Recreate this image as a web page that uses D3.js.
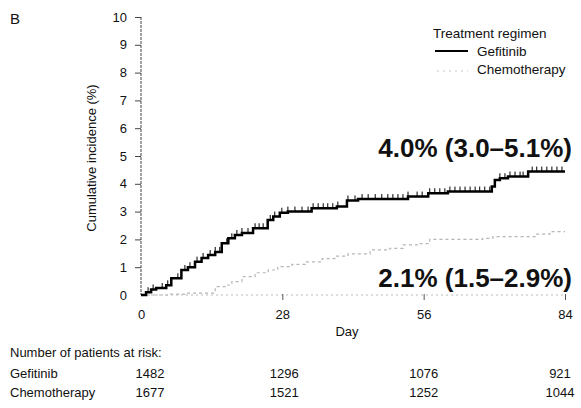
<!DOCTYPE html>
<html>
<head>
<meta charset="utf-8">
<title>Cumulative incidence</title>
<style>
body { margin: 0; background: #fff; }
svg { display: block; }
text { font-family: "Liberation Sans", Arial, sans-serif; fill: #111; }
</style>
<script src="https://cdn.jsdelivr.net/npm/d3@7"></script>
</head>
<body>
<script>
// values
var gefDays = [0, 1, 2, 3, 5, 6, 8, 9.3, 10.7, 12, 13.3, 14.7, 16, 17.3, 18.6, 20, 22.2, 25.1, 26.2, 27.5, 29.1, 33.8, 38.8, 40.8, 43, 52.9, 56.9, 60.8, 69.5, 70.1, 71.1, 72.7, 76.7, 84];
var gefPct = [0, 0.1, 0.2, 0.25, 0.35, 0.6, 0.9, 1.0, 1.2, 1.33, 1.44, 1.55, 1.86, 2.04, 2.16, 2.23, 2.4, 2.7, 2.82, 2.96, 3.0, 3.12, 3.18, 3.4, 3.45, 3.54, 3.66, 3.72, 3.9, 4.14, 4.2, 4.26, 4.44, 4.44];

var chemoDays = [0, 5.5, 8.7, 14.7, 17.2, 18, 20, 22.6, 25.2, 27.1, 29.9, 32.5, 35.9, 38.4, 41, 45.4, 49.3, 51.9, 54.7, 57.2, 67.7, 69.7, 78.4, 81, 84];
var chemoPct = [0, 0.03, 0.07, 0.3, 0.36, 0.48, 0.66, 0.8, 0.9, 1.02, 1.1, 1.19, 1.31, 1.4, 1.48, 1.62, 1.68, 1.8, 1.85, 2.0, 2.04, 2.1, 2.19, 2.28, 2.28];

var gefCensor = [1.4, 2.4, 4.2, 5.3, 7.3, 8.7, 9.7, 11.1, 12.3, 13.7, 14.7, 15.6, 17, 18, 19, 20, 21.2, 22.6, 23.4, 24.2,
    25.6, 26.5, 27.9, 29.1, 30.5, 31.9, 33.1, 34.1, 35.1, 36.1, 37, 38, 39, 41, 42.4, 43.8, 45, 46.4, 47.7,
    48.9, 49.9, 50.9, 51.9, 52.9, 54.7, 55.7, 57.2, 58.2, 59.2, 60.2, 61.2, 62.2, 63.2, 64.2, 65.2, 66.2, 67.1, 68.1, 69.1,
    71.1, 72.1, 73.1, 74.1, 75.1, 75.7, 77.5, 78.4, 79.4, 80.4, 81.4, 82.4, 83.4];

var xTicks = [0, 28, 56, 84];
var yTicks = [0, 1, 2, 3, 4, 5, 6, 7, 8, 9, 10];
var riskGef = [1482, 1296, 1076, 921];
var riskChemo = [1677, 1521, 1252, 1044];

var width = 581, height = 408;

var svg = d3.select('body').append('svg')
    .attr('width', width)
    .attr('height', height);

var x = d3.scaleLinear().domain([0, 84]).range([141, 565]);
var y = d3.scaleLinear().domain([0, 10]).range([295, 17]);

// panel letter
svg.append('text').attr('x', 10).attr('y', 24)
    .style('font-size', '15px').text('B');

// y axis
var yAxis = svg.append('g').attr('transform', 'translate(' + x(0) + ',0)')
    .call(d3.axisLeft(y).tickValues(yTicks).tickSize(6).tickPadding(8).tickFormat(d3.format('d')));
yAxis.select('.domain').attr('stroke', '#444').attr('stroke-dasharray', '3,1').attr('d', 'M0,' + y(10) + 'V' + y(0));
yAxis.selectAll('.tick line').attr('stroke', '#444');
yAxis.selectAll('.tick text').style('font-size', '13px').attr('fill', '#111');
yAxis.select('.tick:first-of-type line').remove();

svg.append('text')
    .attr('transform', 'translate(96,158) rotate(-90)')
    .attr('text-anchor', 'middle')
    .style('font-size', '13px')
    .text('Cumulative incidence (%)');

// x axis
var xAxis = svg.append('g').attr('transform', 'translate(0,' + (y(0) - 1) + ')')
    .call(d3.axisBottom(x).tickValues(xTicks).tickSize(6).tickPadding(10).tickFormat(d3.format('d')));
xAxis.select('.domain').attr('stroke', '#bbb').attr('stroke-dasharray', '2,3').attr('d', 'M' + x(0) + ',1H' + x(84));
xAxis.selectAll('.tick line').attr('stroke', '#555');
xAxis.select('.tick:first-of-type line').remove();
xAxis.selectAll('.tick text').style('font-size', '13px').attr('fill', '#111');

svg.append('text').attr('x', 347).attr('y', 336)
    .attr('text-anchor', 'middle').style('font-size', '13px').text('Day');

// curves
var line = d3.line().curve(d3.curveStepAfter)
    .x(function (d) { return x(d[0]); })
    .y(function (d) { return y(d[1]); });

var chemo = chemoDays.map(function (d, i) { return [d, chemoPct[i]]; });
var gef = gefDays.map(function (d, i) { return [d, gefPct[i]]; });

svg.append('path').datum(chemo).attr('d', line)
    .attr('fill', 'none').attr('stroke', '#b5b5b5').attr('stroke-width', 1.2)
    .attr('stroke-dasharray', '3,3');

svg.append('path').datum(gef).attr('d', line)
    .attr('fill', 'none').attr('stroke', '#000').attr('stroke-width', 2.5);

var gefStep = function (t) {
    var i = d3.bisectRight(gefDays, t) - 1;
    return gefPct[Math.max(0, i)];
};

svg.selectAll('.censor').data(gefCensor).enter().append('line')
    .attr('class', 'censor')
    .attr('x1', function (d) { return x(d); })
    .attr('x2', function (d) { return x(d); })
    .attr('y1', function (d) { return y(gefStep(d)); })
    .attr('y2', function (d) { return y(gefStep(d)) - 5; })
    .attr('stroke', '#000').attr('stroke-width', 1);

// annotations
svg.append('text').attr('x', 572).attr('y', 157)
    .attr('text-anchor', 'end').style('font-size', '26px').style('font-weight', 'bold')
    .text('4.0% (3.0\u20135.1%)');
svg.append('text').attr('x', 572).attr('y', 287)
    .attr('text-anchor', 'end').style('font-size', '26px').style('font-weight', 'bold')
    .text('2.1% (1.5\u20132.9%)');

// legend
svg.append('text').attr('x', 433).attr('y', 38).style('font-size', '13.5px').text('Treatment regimen');
svg.append('line').attr('x1', 435).attr('x2', 468).attr('y1', 51).attr('y2', 51)
    .attr('stroke', '#000').attr('stroke-width', 2);
svg.append('text').attr('x', 477).attr('y', 56).style('font-size', '13.5px').text('Gefitinib');
svg.append('line').attr('x1', 437).attr('x2', 468).attr('y1', 71).attr('y2', 71)
    .attr('stroke', '#c8c8c8').attr('stroke-width', 1).attr('stroke-dasharray', '2,4');
svg.append('text').attr('x', 477).attr('y', 74).style('font-size', '13.5px').text('Chemotherapy');

// number at risk
svg.append('text').attr('x', 10).attr('y', 357).style('font-size', '13px').text('Number of patients at risk:');
svg.append('text').attr('x', 10).attr('y', 378).style('font-size', '13px').text('Gefitinib');
svg.append('text').attr('x', 10).attr('y', 397).style('font-size', '13px').text('Chemotherapy');

var riskShift = [9, 2, 0, -5];
svg.selectAll('.riskG').data(riskGef).enter().append('text')
    .attr('x', function (d, i) { return x(xTicks[i]) + riskShift[i]; })
    .attr('y', 378).attr('text-anchor', 'middle').style('font-size', '13px')
    .text(function (d) { return d; });
svg.selectAll('.riskC').data(riskChemo).enter().append('text')
    .attr('x', function (d, i) { return x(xTicks[i]) + riskShift[i]; })
    .attr('y', 397).attr('text-anchor', 'middle').style('font-size', '13px')
    .text(function (d) { return d; });
</script>
</body>
</html>
